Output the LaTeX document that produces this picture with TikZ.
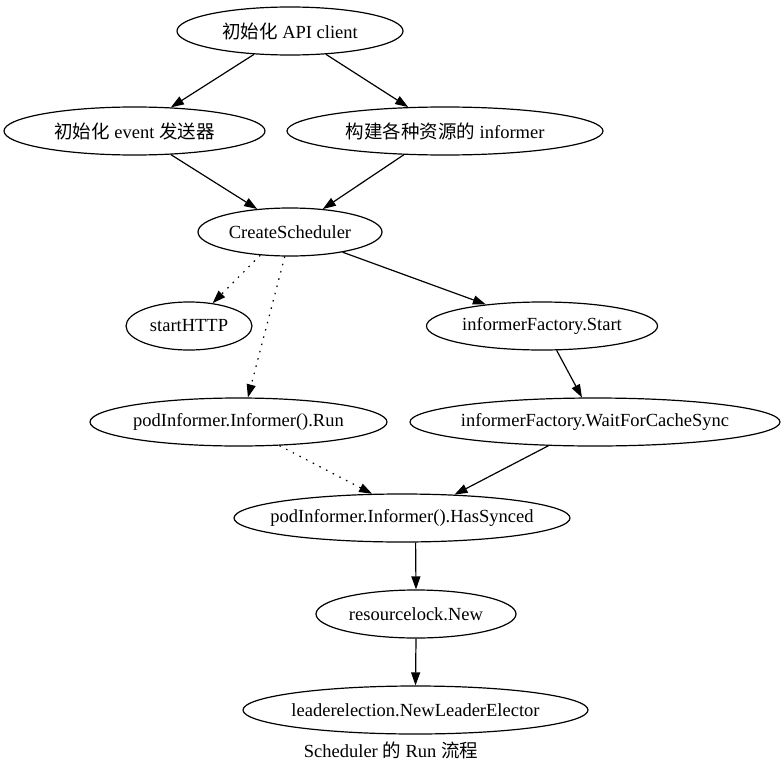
\documentclass[tikz,border=0pt]{standalone}
\usepackage{fontspec}
\setmainfont{Liberation Serif}
\newfontfamily\cjk{Noto Sans CJK SC}
\usepackage{tikz}
\usetikzlibrary{arrows.meta,shapes.geometric}

\begin{document}
\begin{tikzpicture}[x=1pt,y=-1pt,>={Triangle[length=13pt,width=9pt]},
  ev/.style={ellipse,draw,line width=1.2pt,minimum height=48pt,inner ysep=0pt,inner xsep=-20pt,
    font=\fontsize{18.5}{22}\selectfont},
  flow/.style={->,line width=1.2pt},
  weak/.style={->,line width=1.2pt,dash pattern=on 1.5pt off 6pt}]
  \useasboundingbox (0,0) rectangle (784,776);
  % rows of the call graph
  \node[ev,minimum width=226pt] (api) at (290,31) {{\cjk 初始化} API client};
  \node[ev,minimum width=261pt] (evt) at (134.5,131) {{\cjk 初始化} event {\cjk 发送器}};
  \node[ev,minimum width=316pt] (inf) at (445,131) {{\cjk 构建各种资源的} informer};
  \node[ev,minimum width=184pt] (cs) at (290,232) {CreateScheduler};
  \node[ev,minimum width=126pt] (http) at (189,326) {startHTTP};
  \node[ev,minimum width=231pt] (fstart) at (542,326) {informerFactory.Start};
  \node[ev,minimum width=297pt] (run) at (238.5,422) {podInformer.Informer().Run};
  \node[ev,minimum width=370pt] (wait) at (595,422) {informerFactory.WaitForCacheSync};
  \node[ev,minimum width=336pt] (synced) at (402,518) {podInformer.Informer().HasSynced};
  \node[ev,minimum width=200pt] (lock) at (416,614) {resourcelock.New};
  \node[ev,minimum width=345pt] (elect) at (415.5,710) {leaderelection.NewLeaderElector};
  \node[font=\fontsize{18.5}{22}\selectfont] (caption) at (391,750) {Scheduler {\cjk 的} Run {\cjk 流程}};
  % edges
  \draw[flow] (api.213) -- (evt.33);
  \draw[flow] (api.327) -- (inf.147);
  \draw[flow] (evt.-33) -- (cs.145);
  \draw[flow] (inf.210) -- (cs.35);
  \draw[weak] (cs.218) -- (http.44);
  \draw[weak] (cs.258) -- (run.69);
  \draw[flow] (cs.-21) -- (fstart.159);
  \draw[flow] (fstart.-59) -- (wait.118);
  \draw[weak] (run.-30) -- (synced.141);
  \draw[flow] (wait.207) -- (synced.24);
  \draw[flow] (synced.-61) -- (lock.north);
  \draw[flow] (lock.south) -- (elect.north);
\end{tikzpicture}
\end{document}
